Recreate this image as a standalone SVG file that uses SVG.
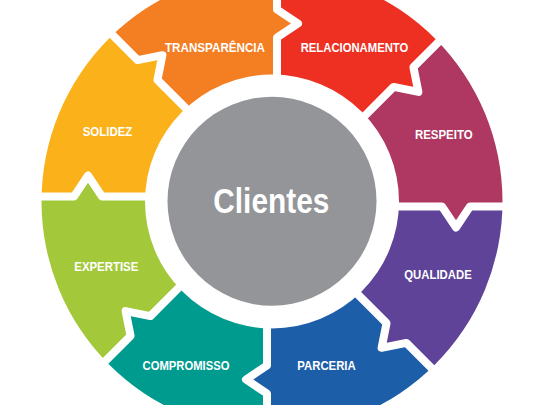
<svg xmlns="http://www.w3.org/2000/svg" width="540" height="405" viewBox="0 0 540 405">
  <defs>
    <clipPath id="ring">
      <path clip-rule="evenodd" d="M272,-29 a230.5,230.5 0 1,0 0,461 a230.5,230.5 0 1,0 0,-461 Z M272,74.5 a127,127 0 1,0 0,254 a127,127 0 1,0 0,-254 Z"/>
    </clipPath>
    <style>
      .lbl { font-family: "Liberation Sans", Arial, sans-serif; font-weight: bold; font-size: 13.5px; fill: #ffffff; text-anchor: middle; }
      .gap { fill: none; stroke: #ffffff; stroke-width: 8; stroke-linejoin: round; }
      .center { font-family: "Liberation Sans", Arial, sans-serif; font-weight: bold; font-size: 35px; fill: #ffffff; text-anchor: middle; }
    </style>
  </defs>
  <rect width="540" height="405" fill="#ffffff"/>

  <g id="seg-transparencia">
    <polygon clip-path="url(#ring)" fill="#F47E22" points="275.54,197.96 157.45,79.88 162.40,55.13 137.65,60.08 49.27,-28.31 277,-118.5 277,9.5 298,23.5 277,37.5 277,201.5"/>
    <text class="lbl" x="215" y="51.5" textLength="100" lengthAdjust="spacingAndGlyphs">TRANSPARÊNCIA</text>
  </g>
  <g id="seg-relacionamento">
    <polygon clip-path="url(#ring)" fill="#EE3023" points="277,201.5 277,37.5 298,23.5 277,9.5 277,-118.5 501.81,-21.24 413.42,67.15 418.37,91.90 393.62,86.95 275.54,205.04"/>
    <text class="lbl" x="354.5" y="51.5" textLength="107.6" lengthAdjust="spacingAndGlyphs">RELACIONAMENTO</text>
  </g>
  <g id="seg-respeito">
    <polygon clip-path="url(#ring)" fill="#AE3861" points="275.54,205.04 393.62,86.95 418.37,91.90 413.42,67.15 501.81,-21.24 592,206.5 470,206.5 456,227.5 442,206.5 272,206.5"/>
    <text class="lbl" x="443.8" y="139.3" textLength="57.7" lengthAdjust="spacingAndGlyphs">RESPEITO</text>
  </g>
  <g id="seg-qualidade">
    <polygon clip-path="url(#ring)" fill="#5E4399" points="272,206.5 442,206.5 456,227.5 470,206.5 592,206.5 494.74,431.31 406.35,342.92 381.60,347.87 386.55,323.12 268.46,205.04"/>
    <text class="lbl" x="438" y="278.8" textLength="67.4" lengthAdjust="spacingAndGlyphs">QUALIDADE</text>
  </g>
  <g id="seg-parceria">
    <polygon clip-path="url(#ring)" fill="#1D5EA9" points="268.46,205.04 386.55,323.12 381.60,347.87 406.35,342.92 494.74,431.31 267,521.5 267,393.5 246,379.5 267,365.5 267,201.5"/>
    <text class="lbl" x="326.5" y="370" textLength="58.4" lengthAdjust="spacingAndGlyphs">PARCERIA</text>
  </g>
  <g id="seg-compromisso">
    <polygon clip-path="url(#ring)" fill="#009B8F" points="267,201.5 267,365.5 246,379.5 267,393.5 267,521.5 42.19,424.24 130.58,335.85 125.63,311.10 150.38,316.05 268.46,197.96"/>
    <text class="lbl" x="186" y="370" textLength="87" lengthAdjust="spacingAndGlyphs">COMPROMISSO</text>
  </g>
  <g id="seg-expertise">
    <polygon clip-path="url(#ring)" fill="#A3C93B" points="268.46,197.96 150.38,316.05 125.63,311.10 130.58,335.85 42.19,424.24 -48,196.5 74,196.5 88,175.5 102,196.5 272,196.5"/>
    <text class="lbl" x="106.3" y="270.7" textLength="64" lengthAdjust="spacingAndGlyphs">EXPERTISE</text>
  </g>
  <g id="seg-solidez">
    <polygon clip-path="url(#ring)" fill="#FBB119" points="272,196.5 102,196.5 88,175.5 74,196.5 -48,196.5 49.27,-28.31 137.65,60.08 162.40,55.13 157.45,79.88 275.54,197.96"/>
    <text class="lbl" x="107.5" y="135.7" textLength="49.6" lengthAdjust="spacingAndGlyphs">SOLIDEZ</text>
  </g>

  <g id="connectors">
    <polyline class="gap" points="277,86.5 277,37.5 298,23.5 277,9.5 277,-48.5"/>
    <polyline class="gap" points="356.85,123.72 393.62,86.95 418.37,91.90 413.42,67.15 452.31,28.26"/>
    <polyline class="gap" points="387,206.5 442,206.5 456,227.5 470,206.5 522,206.5"/>
    <polyline class="gap" points="349.78,286.35 386.55,323.12 381.60,347.87 406.35,342.92 445.24,381.81"/>
    <polyline class="gap" points="267,316.5 267,365.5 246,379.5 267,393.5 267,451.5"/>
    <polyline class="gap" points="187.15,279.28 150.38,316.05 125.63,311.10 130.58,335.85 91.68,374.74"/>
    <polyline class="gap" points="157,196.5 102,196.5 88,175.5 74,196.5 22,196.5"/>
    <polyline class="gap" points="194.22,116.65 157.45,79.88 162.40,55.13 137.65,60.08 98.76,21.19"/>
  </g>

  <g id="clientes">
    <circle cx="272" cy="201.2" r="104.5" fill="#939598"/>
    <text class="center" x="271.3" y="213.3" textLength="116" lengthAdjust="spacingAndGlyphs">Clientes</text>
  </g>
</svg>
